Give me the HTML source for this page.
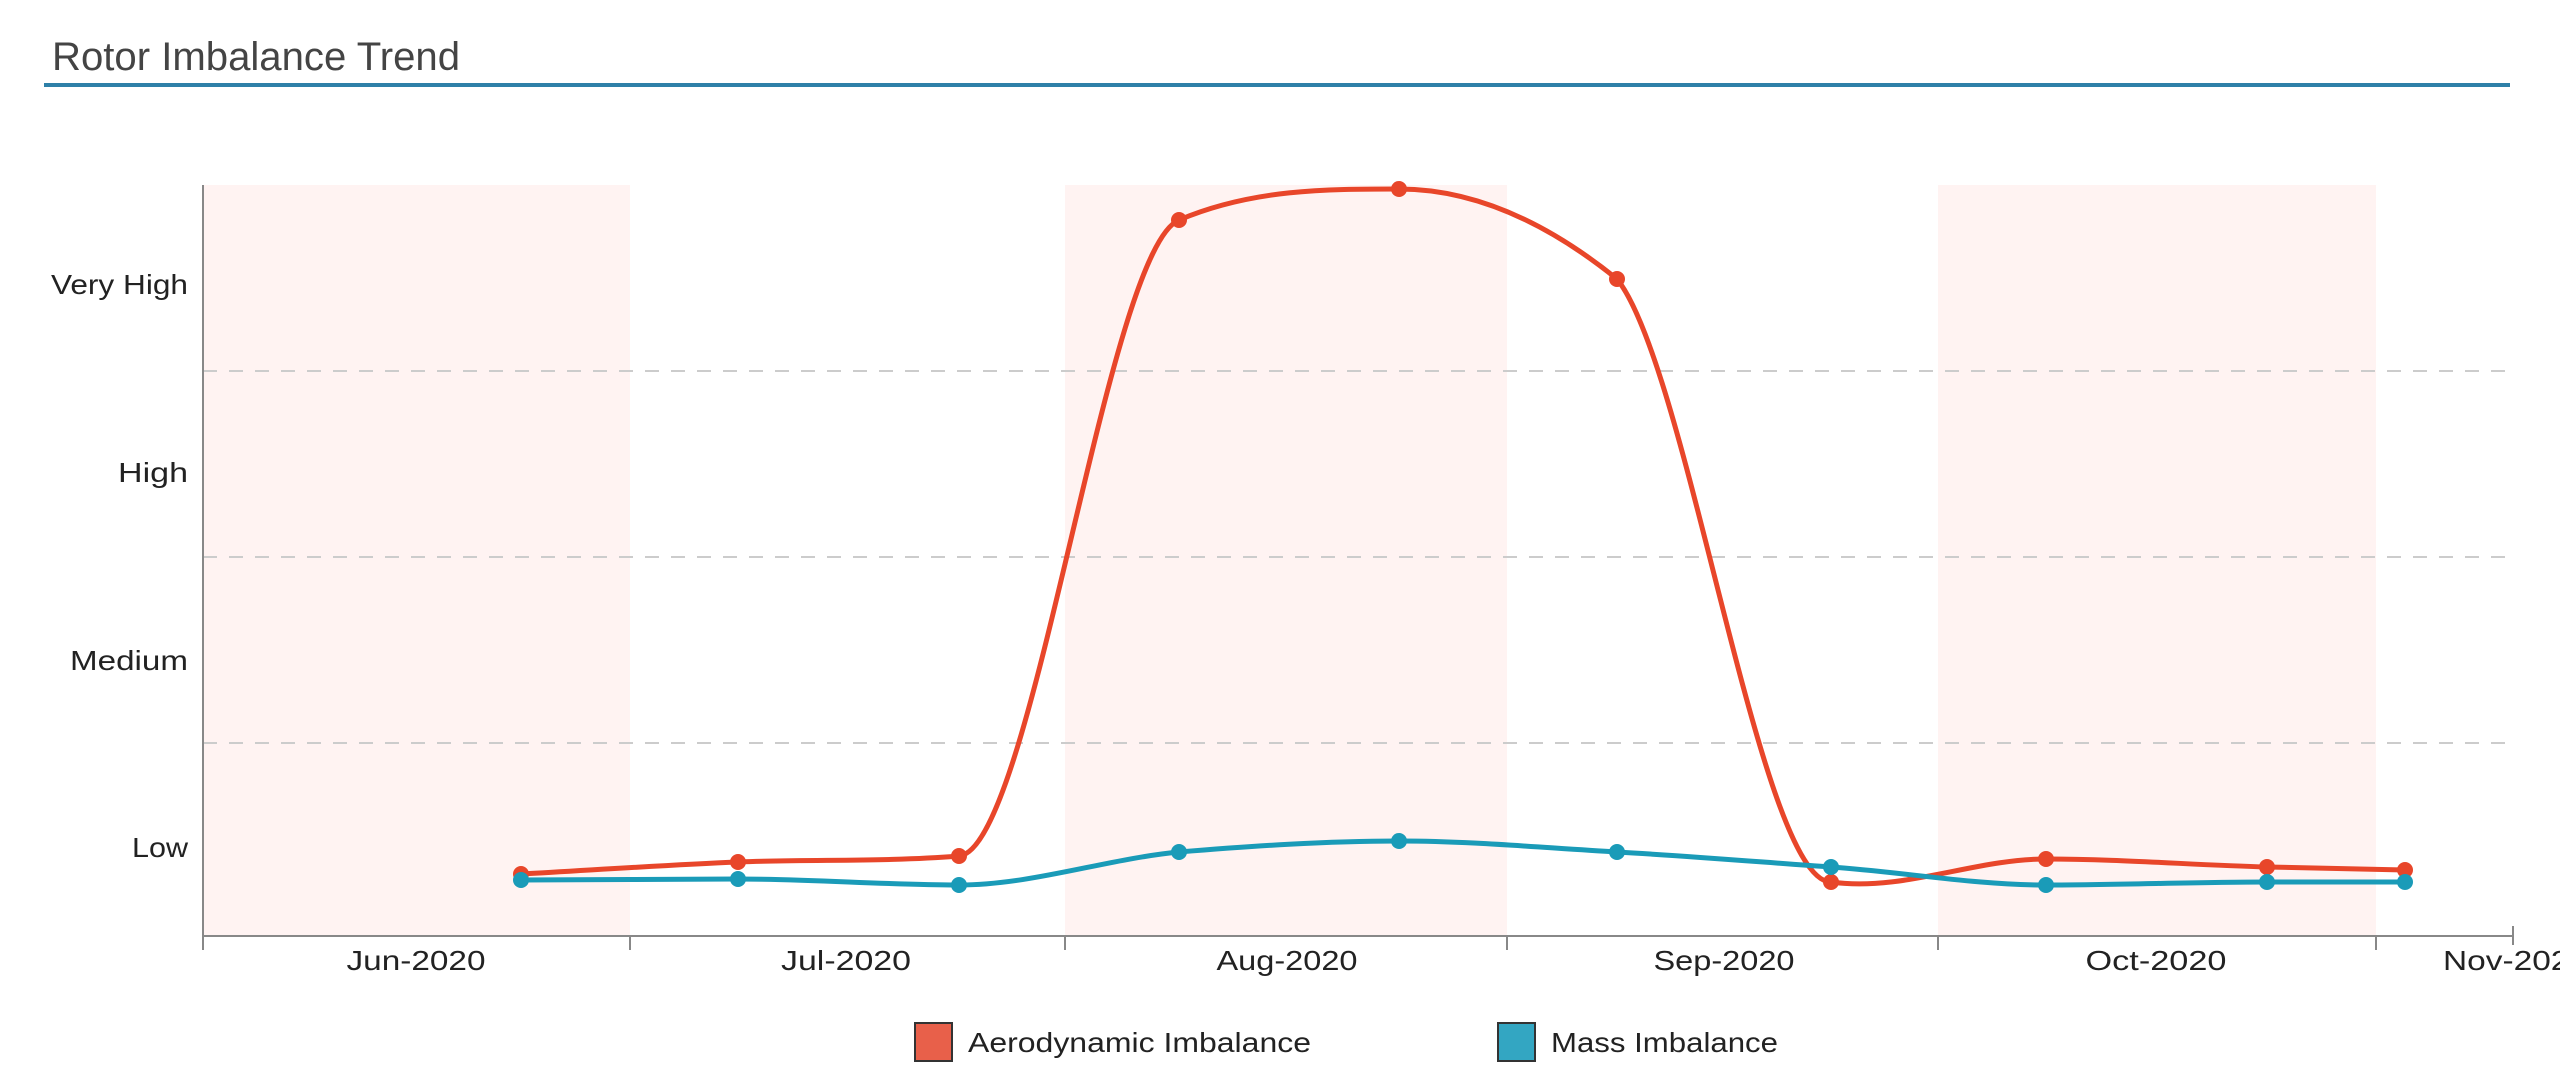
<!DOCTYPE html>
<html><head><meta charset="utf-8"><style>html,body{margin:0;padding:0;background:#fff;}svg{display:block}</style></head>
<body>
<svg width="2560" height="1092" viewBox="0 0 2560 1092" xmlns="http://www.w3.org/2000/svg" font-family="Liberation Sans, sans-serif">
<text x="52" y="70" font-size="40" fill="#444" textLength="408" lengthAdjust="spacingAndGlyphs">Rotor Imbalance Trend</text>
<rect x="44" y="83" width="2466" height="4" fill="#2e80a8"/>
<rect x="203" y="185" width="427" height="751" fill="#fff3f2"/>
<rect x="1065" y="185" width="442" height="751" fill="#fff3f2"/>
<rect x="1938" y="185" width="438" height="751" fill="#fff3f2"/>
<g stroke="#ccc" stroke-width="2" stroke-dasharray="14,12">
<line x1="203" y1="371" x2="2510" y2="371"/>
<line x1="203" y1="557" x2="2510" y2="557"/>
<line x1="203" y1="743" x2="2510" y2="743"/>
</g>
<g stroke="#888" stroke-width="2">
<line x1="203" y1="185" x2="203" y2="950"/>
<line x1="203" y1="936" x2="2513" y2="936"/>
<line x1="630" y1="936" x2="630" y2="950"/>
<line x1="1065" y1="936" x2="1065" y2="950"/>
<line x1="1507" y1="936" x2="1507" y2="950"/>
<line x1="1938" y1="936" x2="1938" y2="950"/>
<line x1="2376" y1="936" x2="2376" y2="950"/>
<line x1="2513" y1="926" x2="2513" y2="945"/>
</g>
<g font-size="28" fill="#222" text-anchor="end">
<text x="188" y="294" textLength="137" lengthAdjust="spacingAndGlyphs">Very High</text>
<text x="188" y="482" textLength="70" lengthAdjust="spacingAndGlyphs">High</text>
<text x="188" y="670" textLength="118" lengthAdjust="spacingAndGlyphs">Medium</text>
<text x="188" y="857" textLength="56" lengthAdjust="spacingAndGlyphs">Low</text>
</g>
<g font-size="28" fill="#222" text-anchor="middle">
<text x="416" y="970" textLength="139" lengthAdjust="spacingAndGlyphs">Jun-2020</text>
<text x="846" y="970" textLength="130" lengthAdjust="spacingAndGlyphs">Jul-2020</text>
<text x="1287" y="970" textLength="141" lengthAdjust="spacingAndGlyphs">Aug-2020</text>
<text x="1724" y="970" textLength="141" lengthAdjust="spacingAndGlyphs">Sep-2020</text>
<text x="2156" y="970" textLength="141" lengthAdjust="spacingAndGlyphs">Oct-2020</text>
</g>
<text x="2443" y="970" font-size="28" fill="#222" textLength="145" lengthAdjust="spacingAndGlyphs">Nov-2020</text>
<path fill="none" stroke="#e8462a" stroke-width="5" d="M521 874 C593 870,666 865,738 862 C812 859,885 862,959 856 C1032 850,1106 251,1179 220 C1252 189,1326 189,1399 189 C1472 189,1544 220,1617 279 C1688 367,1760 882,1831 882 C1903 892,1974 859,2046 859 C2120 859,2193 865,2267 867 C2313 868,2359 869,2405 870"/>
<path fill="none" stroke="#1a9bb8" stroke-width="5" d="M521 880 C593 880,666 879,738 879 C812 879,885 885,959 885 C1032 885,1106 859,1179 852 C1252 846,1326 841,1399 841 C1472 841,1545 848,1617 852 C1688 856,1760 862,1831 867 C1903 872,1974 885,2046 885 C2120 885,2193 882,2267 882 C2313 882,2359 882,2405 882"/>
<g fill="#e8462a">
<circle cx="521" cy="874" r="8"/><circle cx="738" cy="862" r="8"/><circle cx="959" cy="856" r="8"/><circle cx="1179" cy="220" r="8"/><circle cx="1399" cy="189" r="8"/><circle cx="1617" cy="279" r="8"/><circle cx="1831" cy="882" r="8"/><circle cx="2046" cy="859" r="8"/><circle cx="2267" cy="867" r="8"/><circle cx="2405" cy="870" r="8"/>
</g>
<g fill="#1a9bb8">
<circle cx="521" cy="880" r="8"/><circle cx="738" cy="879" r="8"/><circle cx="959" cy="885" r="8"/><circle cx="1179" cy="852" r="8"/><circle cx="1399" cy="841" r="8"/><circle cx="1617" cy="852" r="8"/><circle cx="1831" cy="867" r="8"/><circle cx="2046" cy="885" r="8"/><circle cx="2267" cy="882" r="8"/><circle cx="2405" cy="882" r="8"/>
</g>
<rect x="915" y="1023" width="37" height="38" fill="#e8604a" stroke="#333" stroke-width="2"/>
<text x="968" y="1052" font-size="28" fill="#222" textLength="343" lengthAdjust="spacingAndGlyphs">Aerodynamic Imbalance</text>
<rect x="1498" y="1023" width="37" height="38" fill="#33a6c2" stroke="#333" stroke-width="2"/>
<text x="1551" y="1052" font-size="28" fill="#222" textLength="227" lengthAdjust="spacingAndGlyphs">Mass Imbalance</text>
</svg>
</body></html>
